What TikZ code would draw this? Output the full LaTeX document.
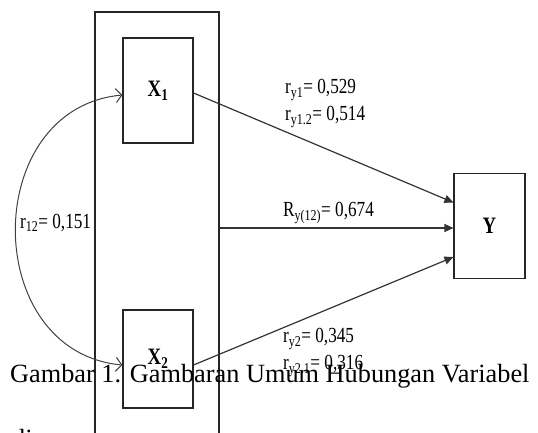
\documentclass[tikz,border=0pt]{standalone}
\usepackage{fontspec}
\setmainfont{Liberation Serif}
\usetikzlibrary{arrows.meta}

% narrow label text, as set in the path diagram
\newcommand{\nar}[1]{\scalebox{0.8}[1]{#1}}

\tikzset{
  box/.style={draw=black!85, line width=1.1pt, inner sep=0pt},
  link/.style={draw=black!80, line width=1.2pt, -{Triangle[length=9pt,width=8pt]}},
  corr/.style={draw=black!75, line width=1pt, {Straight Barb[length=6pt,width=14pt]}-{Straight Barb[length=6pt,width=14pt]}},
  lab/.style={inner sep=0pt, anchor=west, font=\fontsize{21.5}{21.5}\selectfont},
  var/.style={font=\fontsize{23.5}{23.5}\selectfont\bfseries},
  captext/.style={inner sep=0pt, anchor=base west, font=\fontsize{26.3}{30}\selectfont}
}

\begin{document}
\begin{tikzpicture}[x=1pt, y=-1pt]
  \useasboundingbox (0,0) rectangle (538,432);
  \clip (0,0) rectangle (538,432);

  % group frame around both predictors (runs past the lower edge)
  \node[box, minimum width=124pt, minimum height=460pt] (grp) at (157,242) {};

  % predictor and criterion boxes
  \node[box, minimum width=70pt, minimum height=105pt] (X1) at (158,90.5) {};
  \node[var] (X1t) at (X1.center) {\nar{X\textsubscript{1}}};
  \node[box, minimum width=70pt, minimum height=98pt] (X2) at (158,359) {};
  \node[var] (X2t) at (X2.center) {\nar{X\textsubscript{2}}};
  \node[box, minimum width=71pt, minimum height=105pt] (Y) at (489.5,226) {};
  \node[var] (Yt) at (Y.center) {\nar{Y}};

  % end point of the joint path on Y
  \coordinate (ymid) at ([yshift=-2pt]Y.west);

  % paths to Y
  \draw[link] ([yshift=-2.5pt]X1.east) -- ([yshift=23.5pt]Y.west);
  \draw[link] (grp.east |- ymid) -- (ymid);
  \draw[link] ([yshift=-6pt]X2.east) -- ([yshift=-31pt]Y.west);

  % correlation between the predictors
  \draw[corr] ([yshift=-4.5pt]X1.west) .. controls (-20,108) and (-20,352) .. ([yshift=-6pt]X2.west);

  % coefficients
  \node[lab] (l1) at (285,90) {\nar{r\textsubscript{y1}= 0,529}};
  \node[lab] (l2) at (285,117) {\nar{r\textsubscript{y1.2}= 0,514}};
  \node[lab] (l3) at (283,213) {\nar{R\textsubscript{y(12)}= 0,674}};
  \node[lab] (l4) at (20,223) {\nar{r\textsubscript{12}= 0,151}};
  \node[lab] (l5) at (283,339) {\nar{r\textsubscript{y2}= 0,345}};
  \node[lab] (l6) at (283,366) {\nar{r\textsubscript{y2.1}= 0,316}};

  % caption text
  \node[captext] (c1) at (10,382) {Gambar 1. Gambaran Umum Hubungan Variabel};
  \node[captext] (c2) at (12,447) {di};
\end{tikzpicture}
\end{document}
